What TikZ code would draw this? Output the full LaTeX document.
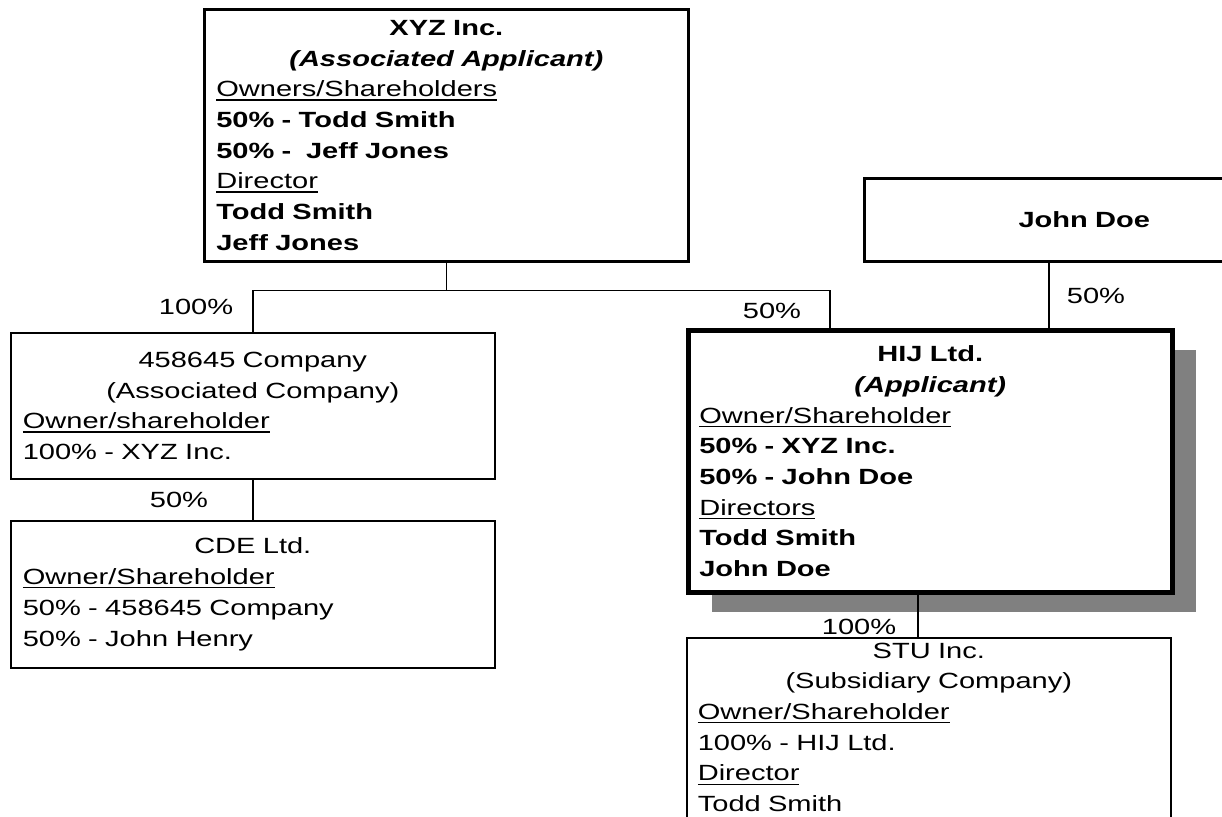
\documentclass[tikz,border=0pt]{standalone}
\usepackage{fontspec}
\setmainfont{Liberation Sans}[FakeStretch=1.32]
\usetikzlibrary{calc,shadows}
\newcommand{\boxfont}{\fontsize{11}{15.35}\selectfont}
\newcommand{\undl}[1]{\leavevmode\setbox0\hbox{#1}\rlap{\rule[-1.9pt]{\wd0}{0.6pt}}\box0}
\tikzset{
    entity/.style={rectangle,draw,fill=white,anchor=north west,align=left,
                   inner xsep=6pt,inner ysep=0pt,font=\boxfont,line width=0.8pt},
    pct/.style={font=\boxfont,inner sep=0pt},
    link/.style={line width=0.75pt}
}
\begin{document}
\begin{tikzpicture}[x=0.5pt,y=-0.5pt]
\useasboundingbox (0,0) rectangle (1222,817);

% boxes
\node[entity,line width=1.3pt,text width=230pt,minimum height=126pt] (xyz) at (203,8)
    {{\centering\textbf{XYZ Inc.}\\\textbf{\textit{(Associated Applicant)}}\par}
     \undl{Owners/Shareholders}\\
     \textbf{50\% - Todd Smith}\\
     \textbf{50\% -\ \ Jeff Jones}\\
     \undl{Director}\\
     \textbf{Todd Smith}\\
     \textbf{Jeff Jones}};
\node[entity,line width=1.3pt,text width=208pt,minimum height=41.5pt,align=center] (jd) at (863,177)
    {\textbf{John Doe}};
\node[entity,text width=230pt,minimum height=73pt] (assoc) at (10,332)
    {{\centering 458645 Company\\(Associated Company)\par}
     \undl{Owner/shareholder}\\
     100\% - XYZ Inc.};
\node[entity,text width=230pt,minimum height=73.5pt] (cde) at (10,520)
    {{\centering CDE Ltd.\par}
     \undl{Owner/Shareholder}\\
     50\% - 458645 Company\\
     50\% - John Henry};
\node[entity,line width=2.3pt,inner xsep=5.5pt,text width=231pt,minimum height=131pt,
      drop shadow={shadow xshift=12pt,shadow yshift=-10pt,opacity=1,fill=black!50}] (hij) at (686,328)
    {{\centering\textbf{HIJ Ltd.}\\\textbf{\textit{(Applicant)}}\par}
     \undl{Owner/Shareholder}\\
     \textbf{50\% - XYZ Inc.}\\
     \textbf{50\% - John Doe}\\
     \undl{Directors}\\
     \textbf{Todd Smith}\\
     \textbf{John Doe}};
\node[entity,inner xsep=5.5pt,inner ysep=2.5pt,text width=231pt] (stu) at (686,637)
    {{\centering STU Inc.\\(Subsidiary Company)\par}
     \undl{Owner/Shareholder}\\
     100\% - HIJ Ltd.\\
     \undl{Director}\\
     Todd Smith\\
     \strut};

% ownership lines
\coordinate (split) at ($(xyz.south)+(0,28)$);
\coordinate (hijin) at ($(hij.north west)!0.295!(hij.north east)$);
\coordinate (jdfoot) at ($(jd.south west)!0.42!(jd.south east)$);
\coordinate (hijfoot) at ($(hij.south west)!0.475!(hij.south east)$);
\draw[link] (xyz.south) -- (split);
\draw[link] (assoc.north) |- (split) -| (hijin);
\draw[link] (assoc.south) -- (cde.north);
\draw[link] (jdfoot) -- (jdfoot |- hij.north);
\draw[link] (hijfoot) -- (hijfoot |- stu.north);

% percentages
\node[pct] (p1) at (196,307) {100\%};
\node[pct] (p2) at (772,311) {50\%};
\node[pct] (p3) at (1096,296) {50\%};
\node[pct] (p4) at (179,500) {50\%};
\node[pct] (p5) at (859,627) {100\%};
\end{tikzpicture}
\end{document}
